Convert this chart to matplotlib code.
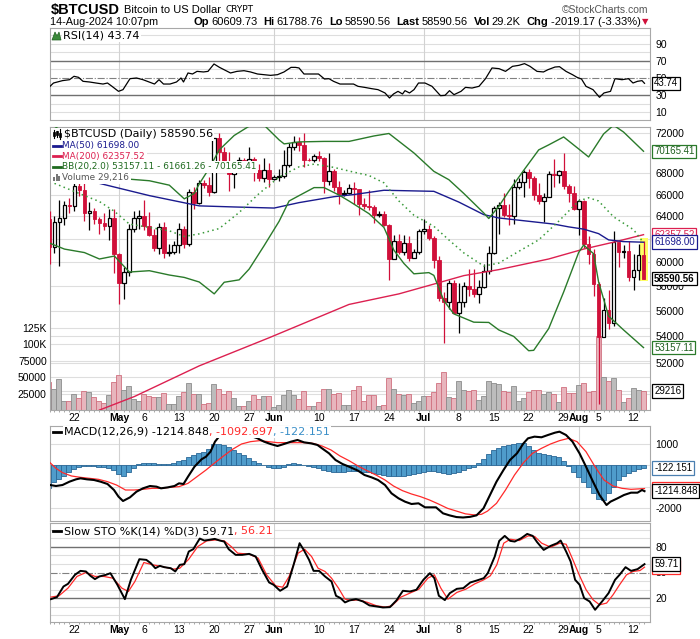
import numpy as np
import matplotlib
matplotlib.use('Agg')
from matplotlib import pyplot as plt
from matplotlib.patches import Rectangle, Polygon
from matplotlib.lines import Line2D
from matplotlib.transforms import blended_transform_factory

plt.rcParams['font.family'] = ['Liberation Sans', 'DejaVu Sans']

# day 0 of every daily array = 17-Apr-2024, last = 14-Aug-2024
start = np.datetime64('2024-04-17')

opens = [63800, 61280, 63510, 63840, 64990, 64940, 66840, 66410, 64280, 64500, 63750, 63420, 63110, 63840,
         60640, 58250, 59120, 62880, 63890, 64030, 63160, 62330, 61190, 63050, 60790, 60820, 61460, 62880, 61550,
         66250, 65230, 67050, 66940, 66280, 71450, 70140, 69120, 67930, 68530, 69280, 68500, 69390, 68300, 67580, 68350,
         67500, 67700, 67750, 68800, 70570, 71080, 70760, 69340, 69310, 69650, 69510, 67320, 68240, 66750, 66010,
         66190, 66640, 66490, 65150, 64960, 64830, 64100, 64250, 63180, 60280, 61800, 60860, 61670, 60320, 60890,
         62680, 62850, 62030, 60200, 57050, 56660, 58230, 55850, 56700, 57990, 57720, 57340, 57900, 59230, 60790,
         64720, 65040, 64090, 63990, 66690, 67150, 68180, 67580, 65930, 65370, 65800, 67900, 67810, 68250, 66780, 66190,
         64620, 65360, 61500, 60700, 58120, 53990, 56030, 55030, 61710, 60880, 60950, 58710, 59350, 60609.73]
closes = [61280, 63510, 63840, 64990, 64940, 66840, 66410, 64280, 64500, 63750, 63420, 63110, 63840, 60640,
          58250, 59120, 62880, 63890, 64030, 63160, 62330, 61190, 63050, 60790, 60820, 61460, 62880, 61550, 66250,
          65230, 67050, 66940, 66280, 71450, 70140, 69120, 67930, 68530, 69280, 68500, 69390, 68300, 67580, 68350, 67500,
          67700, 67750, 68800, 70570, 71080, 70760, 69340, 69310, 69650, 69510, 67320, 68240, 66750, 66010, 66190,
          66640, 66490, 65150, 64960, 64830, 64100, 64250, 63180, 60280, 61800, 60860, 61670, 60320, 60890, 62680,
          62850, 62030, 60200, 57050, 56660, 58230, 55850, 56700, 57990, 57720, 57340, 57900, 59230, 60790, 64720,
          65040, 64090, 63990, 66690, 67150, 68180, 67580, 65930, 65370, 65800, 67900, 67810, 68250, 66780, 66190, 64620,
          65360, 61500, 60700, 58120, 53990, 56030, 55030, 61710, 60880, 60950, 58710, 59350, 60609.73, 58590.56]
highs = [64500, 64050, 65450, 65400, 65700, 67230, 67200, 67050, 65300, 64800, 63900, 64300, 64700, 64700,
         60800, 59600, 63300, 64500, 64600, 65500, 64400, 62900, 63400, 63500, 61500, 61800, 63400, 63100, 66500,
         66700, 67400, 67400, 67700, 71500, 71950, 70600, 70050, 69200, 69550, 69500, 70600, 69550, 68880, 69500, 69000,
         67850, 68400, 70250, 71000, 71700, 71600, 71950, 69500, 69850, 70150, 69550, 69950, 68400, 67300, 66400,
         66950, 67200, 66550, 65700, 66450, 65000, 64500, 64500, 63350, 62300, 62450, 62300, 62200, 61100, 62900,
         63800, 63250, 62250, 60500, 57500, 58450, 58500, 58200, 58300, 59400, 59400, 58500, 59800, 61350, 64900,
         65300, 66100, 65100, 67450, 67600, 68350, 68450, 67800, 67050, 66100, 68200, 69400, 68300, 70000, 67000, 66800,
         65600, 65500, 62200, 61100, 58300, 57000, 57700, 62700, 61750, 61450, 61800, 60650, 61500, 61788.76]
lows = [59800, 60800, 59650, 63180, 64280, 64500, 65860, 63600, 62800, 63300, 62400, 62800, 61900, 59100,
        56550, 56950, 58800, 62600, 62900, 62800, 62200, 60900, 60700, 60300, 60500, 60700, 60800, 61200, 61400,
        64700, 65100, 66600, 65860, 66100, 69200, 68950, 66300, 66600, 68500, 68100, 68250, 67250, 67300, 67140, 66700,
        67390, 67300, 67600, 68600, 70250, 70200, 68600, 69200, 69150, 69250, 66100, 66900, 66300, 65100, 65900,
        66050, 65100, 64100, 64700, 64550, 63400, 63950, 63100, 58500, 60250, 60700, 60600, 60050, 60300, 60700,
        62400, 61850, 59450, 56800, 53500, 56100, 55800, 54300, 56300, 57200, 57100, 56600, 57800, 59000, 60650,
        62400, 63950, 63250, 63350, 66500, 65800, 66650, 65500, 65100, 63450, 65750, 66700, 67050, 66500, 65350, 64550,
        62300, 61200, 59850, 57200, 49100, 53960, 54600, 54800, 59600, 60300, 58400, 57700, 58500, 58590.56]
volume_k = [43, 31.5, 46.7, 13.7, 13.7, 23.9, 17.8, 29, 27.4, 20.3, 13.7,
            10.2, 22.4, 42.2, 52.8, 30.5, 36, 16.8, 14.2, 23.9, 20.8,
            19.8, 19.3, 25.4, 8.6, 8.6, 20.8, 26.9, 41.2, 23.9, 23.9,
            8.6, 10.2, 39, 31.5, 23.9, 29, 17.8, 6.1, 6.1, 13.7,
            22.4, 16.8, 20.8, 20.8, 4.1, 7.6, 22.4, 30.5, 22.4, 16.8,
            29, 6.1, 6.1, 12.7, 31.5, 31.5, 23.9, 25.9, 7.6, 7.6,
            30.5, 36.6, 13.7, 22.6, 22.6, 6.1, 8, 48.3, 32, 24.5,
            23, 24, 10.2, 13.7, 22, 21.3, 27.6, 40.7, 57.5, 19.3,
            18.8, 44.2, 30.5, 29.5, 30.5, 15.2, 21.3, 44.2, 40.7, 40,
            29, 28, 36, 14, 18, 27, 30, 30, 25, 28,
            25, 12.7, 35.6, 25.4, 25.4, 38.1, 41.7, 28, 29, 112,
            50, 44, 49, 30, 12, 18.5, 33.5, 30, 29.216]

# overlays (day, value)
ma50_days = [10, 20, 30, 37, 45, 50, 57, 61, 67, 77, 82, 87, 90, 97, 101, 104, 107, 110, 112, 115, 119]
ma50_vals = [67050, 65900, 64950, 64850, 64750, 65250, 65800, 66000, 66400, 66300, 65300, 64150, 63850, 63500,
             63300, 63050, 62850, 62450, 61900, 61750, 61698]
ma200_days = [10, 17, 30, 44, 60, 70, 77, 83, 90, 100, 107, 113, 119]
ma200_vals = [48660, 49600, 51800, 53900, 56500, 57350, 58150, 58850, 59350, 60250, 61100, 61700, 62357.52]
bbu_days = [1, 16, 20, 24, 27, 29, 30, 32, 34, 37, 40, 43, 46, 47, 50, 55, 60, 65, 68, 73, 77, 80, 83, 87, 88,
            90, 92, 95, 98, 100, 103, 106, 108, 111, 113, 115, 119]
bbu_vals = [72700, 67450, 67300, 66880, 65600, 66100, 67000, 68500, 70300, 71750, 72700, 72800, 71300, 70900,
            71100, 71150, 71150, 71700, 71950, 70000, 68200, 67400, 66100, 64300, 63800, 64900, 66300, 68300,
            70300, 70800, 71600, 70400, 69600, 71900, 72800, 72100, 70165.41]
bbl_days = [0, 3, 7, 10, 13, 16, 20, 24, 27, 30, 33, 35, 38, 40, 43, 46, 48, 50, 53, 55, 58, 60, 64, 67, 69,
            71, 73, 76, 77, 79, 81, 85, 88, 90, 93, 96, 97, 100, 103, 106, 107, 109, 110, 112, 115, 119]
bbl_vals = [61620, 61100, 60800, 60250, 60500, 59150, 59260, 58900, 58700, 58320, 57350, 58300, 58500, 59400,
            61400, 63550, 65400, 65900, 66650, 66650, 65950, 65400, 64240, 63000, 61000, 59870, 59000, 59100,
            58870, 56800, 55750, 55100, 55080, 54500, 54000, 52920, 52950, 54600, 57500, 60800, 61450, 60700,
            58330, 55580, 54500, 53157.11]
bbm_days = [1, 7, 10, 13, 16, 20, 24, 27, 30, 34, 38, 42, 46, 50, 53, 57, 60, 64, 67, 70, 73, 77, 80, 83, 87,
            90, 94, 98, 102, 106, 108, 110, 113, 117, 119]
bbm_vals = [67050, 65900, 65350, 64450, 63300, 63000, 62700, 62200, 62430, 62900, 64350, 66100, 67650, 68640,
            68900, 68580, 68230, 67800, 67100, 65400, 64100, 63100, 61900, 60770, 59650, 59900, 60900, 61900,
            63550, 65400, 65700, 65400, 63950, 62800, 61661.26]

rsi_days = [0.3, 1.0, 2.8, 4.2, 5.1, 6.0, 6.9, 8.2, 9.5, 10.9, 11.8, 12.7, 14.0, 14.9, 16.3, 17.6, 18.9, 21.2,
            22.1, 23.0, 24.3, 25.6, 26.5, 27.0, 27.9, 28.8, 29.7, 31.0, 31.9, 33.1, 34.2, 36.4, 37.7, 39.1, 40.4,
            41.8, 43.1, 44.4, 45.8, 47.1, 48.5, 49.4, 50.1, 51.1, 52.9, 54.0, 55.2, 56.1, 57.0, 58.3, 59.7, 61.0,
            61.9, 63.2, 64.6, 65.9, 67.3, 68.2, 69.0, 69.9, 70.8, 71.3, 72.2, 73.1, 74.0, 75.3, 76.7, 78.4, 79.3,
            80.2, 81.1, 82.5, 83.4, 84.7, 86.1, 87.4, 88.7, 90.1, 91.4, 92.8, 94.1, 95.2, 96.3, 97.7, 99.0, 99.9,
            101.3, 102.2, 103.5, 104.8, 105.7, 106.6, 107.5, 108.9, 110.2, 111.1, 112.4, 113.3, 114.7, 116.0,
            116.9, 117.8, 118.7, 119.2]
rsi_vals = [40.2, 44.1, 46.9, 48.0, 52.0, 50.8, 46.1, 45.3, 44.1, 42.9, 44.1, 40.2, 34.3, 36.3, 49.2, 50.0, 48.0,
            42.9, 48.0, 42.9, 42.9, 45.3, 50.0, 45.3, 55.9, 54.7, 57.8, 57.1, 57.8, 66.5, 62.5, 55.9, 57.8, 58.6,
            57.1, 54.7, 53.9, 53.1, 53.9, 57.1, 62.5, 62.5, 61.8, 54.7, 54.7, 54.7, 48.8, 49.2, 46.1, 42.9, 42.9,
            42.9, 40.2, 39.0, 37.5, 36.3, 32.4, 26.5, 31.2, 34.3, 31.2, 35.1, 32.4, 36.3, 44.1, 44.1, 40.2, 29.2,
            29.6, 35.1, 30.4, 34.3, 39.0, 38.2, 40.2, 49.2, 61.8, 61.0, 57.8, 63.7, 64.9, 66.9, 63.7, 57.8, 57.1,
            59.8, 62.9, 63.3, 57.8, 53.9, 50.8, 48.8, 40.2, 36.3, 27.3, 32.4, 34.3, 49.2, 48.0, 49.2, 44.1, 46.1,
            46.9, 43.74]

macd_days = [0.3, 1.5, 2.8, 4.2, 5.5, 6.4, 7.7, 9.1, 10.4, 11.8, 13.1, 14.0, 14.9, 16.3, 17.6, 18.9, 20.3, 21.6,
             22.5, 23.9, 25.2, 26.1, 27.0, 27.9, 29.2, 30.6, 31.5, 32.4, 33.3, 34.1, 36.0, 38.5, 41.8, 43.1, 44.4,
             45.8, 47.1, 48.5, 49.8, 51.1, 52.5, 53.8, 54.7, 56.1, 57.4, 58.8, 60.1, 61.9, 63.2, 64.6, 65.9, 67.3,
             68.6, 70.0, 71.3, 72.6, 74.0, 75.3, 76.2, 77.5, 78.9, 80.2, 81.6, 82.9, 84.3, 85.6, 87.0, 88.3, 89.6,
             91.0, 92.3, 93.7, 95.0, 95.9, 97.2, 98.6, 99.9, 101.3, 102.2, 103.5, 104.8, 106.2, 107.5, 108.9,
             110.2, 111.6, 112.4, 113.8, 115.1, 116.5, 117.8, 118.7, 119.2]
macd_vals = [-925, -972, -925, -768, -659, -612, -659, -690, -768, -878, -1160, -1472, -1676, -1504, -1238,
             -1081, -972, -1003, -1081, -1034, -972, -847, -878, -534, -64, 280, 405, 640, 1110, 1345, 1560, 1540,
             1266, 1110, 1000, 906, 1000, 1110, 1188, 1078, 1031, 953, 797, 562, 249, 61, -64, -252, -456, -565,
             -690, -925, -1316, -1550, -1707, -1817, -1785, -1973, -1973, -1973, -2255, -2350, -2430, -2450,
             -2420, -2350, -2020, -1394, -768, -221, 249, 562, 1031, 1266, 1345, 1315, 1423, 1532, 1579, 1423,
             1110, 562, -64, -768, -1394, -1864, -1707, -1550, -1394, -1285, -1285, -1160, -1214.848]
signal_days = [0.3, 1.5, 2.8, 4.6, 6.4, 8.2, 10.0, 11.8, 13.6, 15.4, 17.1, 18.9, 20.7, 22.5, 24.3, 26.1, 27.9,
               29.7, 31.5, 33.3, 35.0, 36.8, 38.6, 40.4, 42.2, 44.0, 45.8, 47.6, 49.4, 51.1, 52.9, 54.7, 56.5,
               58.3, 60.1, 61.9, 63.7, 65.5, 67.3, 69.0, 70.8, 72.6, 74.4, 76.2, 78.0, 79.8, 81.6, 83.4, 85.2,
               86.6, 87.8, 89.6, 91.4, 93.2, 95.0, 96.8, 98.6, 100.4, 102.2, 104.0, 105.7, 107.5, 109.3, 111.1,
               112.9, 114.7, 116.5, 119.2]
signal_vals = [124, -142, -346, -502, -565, -612, -659, -768, -925, -1160, -1160, -1128, -1081, -1081, -1034,
               -1003, -847, -534, -221, 124, 437, 750, 1000, 1110, 1157, 1110, 1063, 1063, 1063, 1063, 1031, 906,
               719, 437, 218, -33, -252, -456, -690, -972, -1191, -1347, -1472, -1629, -1817, -2020, -2150, -2280,
               -2330, -2300, -2150, -1785, -1160, -456, 124, 562, 797, 1000, 1157, 1266, 1110, 640, -64, -690, -972,
               -1081, -1128, -1092.697]
hist_vals = [-1050, -800, -620, -480, -300, -180, -80, -30, -20, -40, -60,
             -80, -150, -230, -420, -480, -320, -120, 40, 100, 120,
             110, 60, 40, 80, 120, 200, 250, 380, 500, 560,
             620, 760, 980, 1000, 960, 860, 700, 560, 480, 350,
             200, 100, 20, -80, -150, -130, -60, 50, 120, 60,
             0, -20, -60, -120, -200, -250, -300, -320, -300, -280,
             -260, -280, -300, -330, -360, -420, -460, -500, -520, -510,
             -480, -440, -400, -340, -300, -280, -250, -300, -360, -400,
             -380, -300, -220, -120, -60, 100, 300, 520, 700, 800,
             900, 960, 1020, 1050, 1060, 900, 700, 560, 520, 500,
             450, 380, 200, -50, -300, -550, -780, -1000, -1300, -1600,
             -1650, -1300, -1000, -700, -500, -350, -250, -180, -122.151]

stok_days = [0.3, 1.5, 2.8, 3.7, 5.1, 6.2, 7.3, 8.2, 9.1, 10.0, 11.3, 12.2, 13.6, 15.1, 16.3, 18.0, 19.4, 20.3,
             21.2, 22.1, 23.0, 24.3, 25.2, 26.1, 27.0, 27.9, 28.8, 30.1, 31.0, 31.9, 33.1, 34.1, 35.0, 35.9, 37.3,
             38.6, 40.0, 41.3, 42.6, 44.0, 44.9, 46.2, 47.6, 48.9, 50.1, 51.0, 52.0, 52.9, 54.0, 55.2, 56.5, 57.4,
             58.3, 59.2, 60.1, 61.4, 62.8, 64.1, 65.5, 66.8, 68.2, 69.5, 70.8, 72.2, 73.5, 74.9, 76.2, 77.1, 78.0,
             79.2, 80.2, 81.6, 82.9, 84.3, 85.6, 87.0, 87.8, 89.2, 90.1, 91.2, 92.3, 93.2, 94.5, 95.7, 96.8, 97.7,
             99.0, 100.4, 101.7, 102.4, 103.5, 104.4, 105.3, 106.2, 107.1, 108.2, 109.3, 110.7, 112.0, 113.3,
             114.2, 115.4, 116.5, 117.8, 119.2]
stok_vals = [19.0, 21.4, 33.7, 36.8, 47.3, 51.9, 51.2, 46.1, 42.3, 45.4, 47.3, 49.2, 35.7, 19.0, 41.5, 65.5, 64.7,
             60.8, 55.0, 57.7, 56.2, 55.0, 51.2, 58.9, 59.7, 74.4, 77.1, 89.5, 87.2, 87.9, 89.1, 87.2, 86.0, 77.1,
             70.5, 70.5, 71.7, 68.6, 53.1, 38.4, 35.7, 28.7, 33.7, 58.9, 84.1, 75.6, 64.7, 51.9, 51.9, 45.4, 39.5,
             22.9, 20.2, 15.2, 17.5, 19.0, 16.3, 11.7, 10.5, 9.3, 9.7, 17.5, 28.7, 27.9, 29.9, 41.5, 49.2, 43.4,
             22.9, 17.9, 26.0, 31.0, 31.8, 38.4, 40.7, 43.4, 49.2, 68.6, 86.8, 92.6, 86.8, 86.0, 89.9, 94.9, 92.6,
             85.2, 76.3, 81.0, 84.1, 87.2, 74.4, 62.8, 41.5, 35.7, 20.2, 16.3, 6.6, 16.3, 26.0, 41.5, 47.3, 56.2,
             51.9, 53.9, 59.71]
stod_days = [0.3, 1.9, 3.7, 5.5, 7.3, 9.1, 10.9, 12.7, 14.5, 15.8, 17.1, 18.9, 20.7, 22.5, 24.8, 26.1, 27.9,
             29.7, 31.5, 33.3, 35.0, 36.4, 37.7, 40.0, 41.8, 43.5, 45.3, 46.7, 48.0, 49.8, 51.1, 52.5, 53.8, 55.2,
             56.5, 57.9, 59.2, 60.5, 61.9, 63.7, 65.5, 67.3, 68.6, 70.4, 72.2, 74.0, 75.8, 77.1, 78.4, 79.8, 81.6,
             83.4, 85.2, 87.0, 88.3, 89.6, 91.0, 92.3, 94.1, 95.9, 97.2, 98.6, 100.4, 102.2, 103.5, 104.8, 106.2,
             107.5, 108.9, 110.2, 111.6, 112.9, 114.2, 115.6, 116.9, 118.3, 119.2]
stod_vals = [21.4, 22.9, 31.8, 45.4, 50.0, 45.4, 45.4, 43.4, 31.8, 27.9, 39.5, 61.6, 58.9, 57.0, 53.9, 55.0, 65.5,
             80.2, 86.8, 87.9, 86.8, 80.2, 72.5, 71.3, 66.7, 47.3, 34.5, 32.9, 45.4, 72.5, 77.1, 68.6, 55.0, 51.2,
             43.4, 31.8, 19.0, 17.5, 18.2, 15.2, 11.3, 9.7, 11.3, 21.4, 26.0, 30.6, 43.4, 47.3, 31.8, 19.0, 26.8,
             30.6, 36.8, 41.5, 46.1, 58.9, 84.1, 88.7, 87.2, 92.6, 91.9, 84.1, 79.5, 84.1, 82.9, 65.5, 46.1, 29.9,
             18.2, 12.4, 14.4, 24.1, 35.7, 47.3, 51.2, 52.3, 56.21]

tick_dates = ['2024-04-22', '2024-05-01', '2024-05-06', '2024-05-13', '2024-05-20', '2024-05-27', '2024-06-01',
              '2024-06-10', '2024-06-17', '2024-06-24', '2024-07-01', '2024-07-08', '2024-07-15', '2024-07-22',
              '2024-07-29', '2024-08-01', '2024-08-05', '2024-08-12']
tick_labels = ['22', 'May', '6', '13', '20', '27', 'Jun', '10', '17', '24', 'Jul', '8', '15', '22', '29', 'Aug',
               '5', '12']
month_names = ['May', 'Jun', 'Jul', 'Aug']

# ---------------------------------------------------------------------------
W, H = 700, 639
fig = plt.figure(figsize=(W / 100, H / 100), dpi=100)
renderer = fig.canvas.get_renderer()
SANS = ['Liberation Sans', 'DejaVu Sans']
DV = ['DejaVu Sans']


def fx(x):
    return x / W


def fy(y):
    return 1 - y / H


X0, X1 = 49.5, 650.0


def panel(top, bot):
    return fig.add_axes([fx(X0), fy(bot), (X1 - X0) / W, (bot - top) / H])


ax_rsi = panel(28, 120)
ax_vol = panel(127, 410)
ax = panel(127, 410)
ax_macd = panel(426, 521)
ax_sto = panel(523, 622)
ax.set_zorder(ax_vol.get_zorder() + 1)
ax.patch.set_visible(False)

day = np.arange(len(opens))
tick_k = (np.array(tick_dates, dtype='datetime64[D]') - start).astype(int)
month_k = [k for k, s in zip(tick_k, tick_labels) if s in month_names]

GRID = '#dedede'
SPINE = '#a8a8a8'
RED = '#d0103a'
LBL = 7.5

for a in (ax_rsi, ax_vol, ax, ax_macd, ax_sto):
    a.set_xlim(0.2, 120.3)
    for s in a.spines.values():
        s.set_color(SPINE)
        s.set_linewidth(0.8)
    a.tick_params(axis='both', length=0, labelsize=LBL, pad=3)
    a.set_xticks([])
for s in ax_vol.spines.values():
    s.set_visible(False)

# ----- main price panel ----------------------------------------------------
ax.set_yscale('log')
ax.set_ylim(48665, 72614)
ax_vol.set_ylim(0, 431000)
price_grid = [50000, 52000, 54000, 56000, 58000, 60000, 62000, 64000, 66000, 68000, 70000, 72000]
# 62000 and 70000 sit under the value tags, so the chart shows no label there
price_labels = [52000, 54000, 56000, 58000, 60000, 64000, 66000, 68000, 72000]
ax.yaxis.tick_right()
ax.set_yticks(price_labels, [str(p) for p in price_labels])
ax.set_yticks([], minor=True)
ax.tick_params(axis='y', which='both', length=0, pad=4, labelsize=LBL)

gtrans = blended_transform_factory(ax_vol.transAxes, ax.transData)
for p in price_grid:
    ax_vol.plot([0, 1], [p, p], transform=gtrans, color=GRID, lw=0.8, zorder=0)
vol_ticks = [25000, 50000, 75000, 100000, 125000]
for v in vol_ticks:
    ax_vol.axhline(v, color=GRID, lw=0.8, zorder=0)
for k in month_k:
    ax_vol.axvline(k, color='#d2d2d2', lw=0.8, zorder=0)
ax_vol.set_yticks(vol_ticks, ['25000', '50000', '75000', '100K', '125K'])
ax_vol.tick_params(axis='y', length=0, pad=2, labelsize=LBL)

down = [c < o for o, c in zip(opens, closes)]
ax_vol.bar(day, np.array(volume_k) * 1000, width=1.0,
           color=['#e8b5bd' if d else '#bcbcbc' for d in down],
           edgecolor=['#d0707f' if d else '#8c8c8c' for d in down], lw=0.6, zorder=2)

last = day[-1]
ax.add_patch(Rectangle((last - 0.8, lows[-1] * 0.997), 1.6, highs[-1] * 1.004 - lows[-1] * 0.997,
                       fc='#ffff66', ec='none', zorder=2))
for k in day:
    o, h, l, c = opens[k], highs[k], lows[k], closes[k]
    if c < o:
        ax.vlines(k, l, h, color=RED, lw=0.9, zorder=3)
        ax.add_patch(Rectangle((k - 0.38, c), 0.76, o - c, fc=RED, ec=RED, lw=0.6, zorder=4))
    else:
        ax.vlines(k, l, h, color='black', lw=0.9, zorder=3)
        ax.add_patch(Rectangle((k - 0.38, o), 0.76, max(c - o, 15), fc='white', ec='black', lw=0.9, zorder=4))

ax.plot(ma200_days, ma200_vals, color='#dc2050', lw=1.0, zorder=5)
ax.plot(ma50_days, ma50_vals, color='#1a1a8e', lw=1.0, zorder=5)
ax.plot(bbu_days, bbu_vals, color='#2a7a2a', lw=1.0, zorder=5)
ax.plot(bbl_days, bbl_vals, color='#2a7a2a', lw=1.0, zorder=5)
ax.plot(bbm_days, bbm_vals, color='#3a9a3a', lw=1.1, ls=(0, (1, 2.2)), zorder=5)


def date_axis(a):
    a.set_xticks(tick_k, tick_labels)
    a.set_xticks(day, minor=True)
    a.tick_params(axis='x', which='major', length=0, labelsize=LBL, pad=2)
    a.tick_params(axis='x', which='minor', length=1.5, color='#999999')
    for t in a.get_xticklabels():
        if t.get_text() in month_names:
            t.set_fontweight('bold')


date_axis(ax)


def tag(a, val, s, ec, tc='black', bold=False, z=6):
    a.annotate(s, xy=(1, val), xycoords=a.get_yaxis_transform(), xytext=(3, 0),
               textcoords='offset points', ha='left', va='center', fontsize=7, color=tc,
               fontweight='bold' if bold else 'normal', family=SANS,
               bbox=dict(boxstyle='square,pad=0.18', fc='white', ec=ec, lw=0.9),
               annotation_clip=False, zorder=z)


tag(ax, bbu_vals[-1], '70165.41', '#2a7a2a', '#1f5f1f')
tag(ax, ma200_vals[-1], '62357.52', '#dc2050', '#dc2050', z=6)
tag(ax, ma50_vals[-1], '61698.00', '#1a1a8e', '#1a1a8e', z=7)
tag(ax, closes[-1], '58590.56', 'black', 'black', bold=True, z=8)
tag(ax, bbl_vals[-1], '53157.11', '#2a7a2a', '#1f5f1f')
tag(ax_vol, volume_k[-1] * 1000, '29216', 'black')

# ----- RSI -------------------------------------------------------------------
ax_rsi.set_ylim(0.6, 108.8)
ax_rsi.yaxis.tick_right()
ax_rsi.set_yticks([10, 30, 50, 70, 90])
ax_rsi.tick_params(axis='y', pad=4, labelsize=LBL)
for v in [10, 20, 40, 60, 80, 90, 100]:
    ax_rsi.axhline(v, color=GRID, lw=0.8, zorder=0)
for k in month_k:
    ax_rsi.axvline(k, color='#d2d2d2', lw=0.8, zorder=0)
ax_rsi.axhline(70, color='#707070', lw=1.0, zorder=1)
ax_rsi.axhline(30, color='#707070', lw=1.0, zorder=1)
ax_rsi.axhline(50, color='#808080', lw=0.8, ls='-.', zorder=1)
rd, rv = np.array(rsi_days), np.array(rsi_vals)
ax_rsi.fill_between(rd, rv, 30, where=rv < 30, color='#e07090', lw=0, zorder=2)
ax_rsi.plot(rd, rv, color='black', lw=0.9, zorder=3)
tag(ax_rsi, 43.74, '43.74', 'black')

# ----- MACD ------------------------------------------------------------------
ax_macd.set_ylim(-2615, 1845)
ax_macd.yaxis.tick_right()
ax_macd.set_yticks([1000, -2000], ['1000', '-2000'])
ax_macd.tick_params(axis='y', pad=4, labelsize=LBL)
for v in [1000, 0, -1000, -2000]:
    ax_macd.axhline(v, color=GRID, lw=0.8, zorder=0)
for k in month_k:
    ax_macd.axvline(k, color='#d2d2d2', lw=0.8, zorder=0)
ax_macd.bar(day, hist_vals, width=1.0, color='#4f9ccb', edgecolor='#2a6796', lw=0.6, zorder=2)
ax_macd.plot(signal_days, signal_vals, color='#ff2a2a', lw=0.9, zorder=3)
ax_macd.plot(macd_days, macd_vals, color='black', lw=1.5, zorder=4)
tag(ax_macd, -122.151, '-122.151', '#4a7fb0')
tag(ax_macd, -1092.697, '-1092.697', '#ff2a2a', '#ff2a2a', z=6)
tag(ax_macd, -1214.848, '-1214.848', 'black', z=7)

# ----- Slow stochastic -----------------------------------------------------
ax_sto.set_ylim(-7.6, 107.6)
ax_sto.yaxis.tick_right()
ax_sto.set_yticks([20, 50, 80])
ax_sto.tick_params(axis='y', pad=4, labelsize=LBL)
for v in [0, 10, 30, 40, 60, 70, 90, 100]:
    ax_sto.axhline(v, color=GRID, lw=0.8, zorder=0)
for k in month_k:
    ax_sto.axvline(k, color='#d2d2d2', lw=0.8, zorder=0)
ax_sto.axhline(80, color='#707070', lw=1.0, zorder=1)
ax_sto.axhline(20, color='#707070', lw=1.0, zorder=1)
ax_sto.axhline(50, color='#808080', lw=0.8, ls='-.', zorder=1)
ax_sto.plot(stod_days, stod_vals, color='#ff2a2a', lw=0.9, zorder=3)
ax_sto.plot(stok_days, stok_vals, color='black', lw=1.4, zorder=4)
tag(ax_sto, 56.21, '56.21', '#ff2a2a', '#ff2a2a', z=6)
tag(ax_sto, 59.71, '59.71', 'black', z=7)
date_axis(ax_sto)


# ----- texts -----------------------------------------------------------------
def run_text(x, y, pieces, ha='left', box=False):
    arts, widths = [], []
    for s, size, wt, col, fam, gap in pieces:
        kw = dict(bbox=dict(fc='white', ec='none', pad=1.0)) if box else {}
        t = fig.text(0, fy(y), s, fontsize=size, fontweight=wt, color=col, family=fam,
                     va='center', ha='left', zorder=10, **kw)
        arts.append(t)
        widths.append(t.get_window_extent(renderer).width)
    total = sum(widths) + sum(p[5] for p in pieces)
    cur = x - total if ha == 'right' else x
    for t, w, p in zip(arts, widths, pieces):
        t.set_x(fx(cur))
        cur += w + p[5]


B, N = 'bold', 'normal'
run_text(51, 10, [('$BTCUSD', 10.5, B, 'black', SANS, 4),
                  ('Bitcoin to US Dollar', 8, N, 'black', SANS, 5),
                  ('CRYPT', 6.5, N, 'black', DV, 0)])
fig.text(fx(648), fy(10), '\u00a9StockCharts.com', fontsize=7.5, color='#555555', family=SANS,
         ha='right', va='center')
fig.text(fx(50), fy(22), '14-Aug-2024 10:07pm', fontsize=7.8, family=SANS, va='center')
run_text(648, 22, [('Op', 8, B, 'black', SANS, 2), ('60609.73', 8, N, 'black', SANS, 6),
                   ('Hi', 8, B, 'black', SANS, 2), ('61788.76', 8, N, 'black', SANS, 6),
                   ('Lo', 8, B, 'black', SANS, 2), ('58590.56', 8, N, 'black', SANS, 6),
                   ('Last', 8, B, 'black', SANS, 2), ('58590.56', 8, N, 'black', SANS, 6),
                   ('Vol', 8, B, 'black', SANS, 2), ('29.2K', 8, N, 'black', SANS, 6),
                   ('Chg', 8, B, 'black', SANS, 2), ('-2019.17 (-3.33%)', 8, N, 'black', SANS, 1),
                   ('\u25bc', 6, N, RED, DV, 0)], ha='right')

# main panel legend (white backing under the icon column)
fig.add_artist(Rectangle((fx(50.5), fy(183)), 12.5 / W, 55 / H, fc='white', ec='none', zorder=9))
run_text(64, 134.3, [('$BTCUSD (Daily) 58590.56', 8, N, 'black', DV, 0)], box=True)
leg = [('MA(50) 61698.00', '#1a1a8e', 145.5), ('MA(200) 62357.52', '#dc2050', 156.3),
       ('BB(20,2.0) 53157.11 - 61661.26 - 70165.41', '#1f6a1f', 167.0), ('Volume 29,216', '#555555', 177.7)]
for s, col, y in leg:
    run_text(62.5, y, [(s, 6.4, N, col, DV, 0)], box=True)
    if not s.startswith('Volume'):
        fig.add_artist(Line2D([fx(52.5), fx(61)], [fy(y), fy(y)], color=col, lw=2, zorder=11))
for i, hh in enumerate([4, 7, 5]):
    fig.add_artist(Rectangle((fx(53 + i * 2.6), fy(181)), 2.0 / W, hh / H, fc='#777777', ec='none', zorder=11))
for i, (a, b) in enumerate([(130, 138), (131, 137), (129, 139)]):
    fig.add_artist(Line2D([fx(54 + i * 3)] * 2, [fy(b), fy(a)], color='black', lw=0.8, zorder=11))
    fig.add_artist(Rectangle((fx(53.2 + i * 3), fy(b - 2)), 1.6 / W, 4 / H, fc='black', ec='black', lw=0.5,
                             zorder=11))

# RSI legend
fig.add_artist(Polygon([[fx(52), fy(40)], [fx(55), fy(32)], [fx(57), fy(36)], [fx(59), fy(32)],
                        [fx(61), fy(40)]], closed=True, fc='#3a8a3a', ec='#1f5f1f', lw=0.5, zorder=11))
run_text(63, 36, [('RSI(14) 43.74', 8, N, 'black', DV, 0)], box=True)

# MACD legend
fig.add_artist(Line2D([fx(52.5), fx(61)], [fy(432), fy(432)], color='black', lw=2, zorder=11))
run_text(64, 432, [('MACD(12,26,9) -1214.848', 8, N, 'black', DV, 0),
                   (', -1092.697', 8, N, '#ff2a2a', DV, 0),
                   (', -122.151', 8, N, '#3a8fc8', DV, 0)], box=True)

# STO legend
fig.add_artist(Line2D([fx(52.5), fx(61)], [fy(531), fy(531)], color='black', lw=2, zorder=11))
run_text(64, 531, [('Slow STO %K(14) %D(3) 59.71', 8, N, 'black', DV, 0),
                   (', 56.21', 8, N, '#ff2a2a', DV, 0)], box=True)

fig.savefig('out.png', dpi=100, facecolor='white')
